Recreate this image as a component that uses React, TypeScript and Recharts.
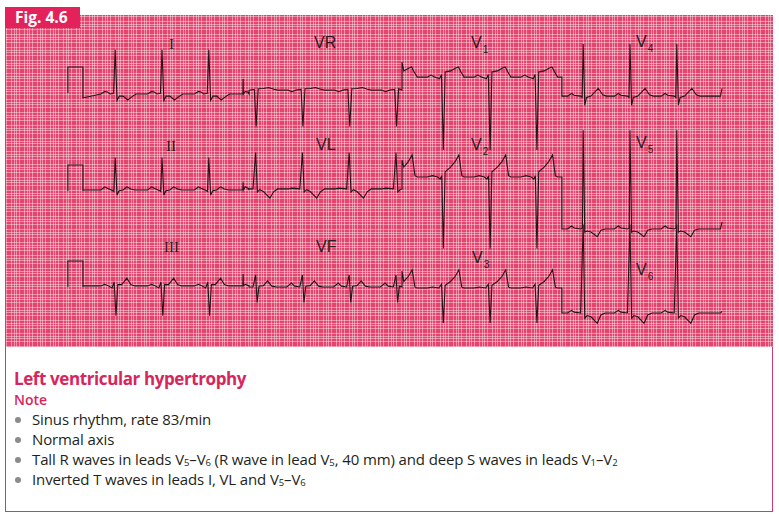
import React from "react";
import { LineChart, Line, XAxis, YAxis } from "recharts";

// paper scale: 1 mm = 2.6 px (25 mm/s, 10 mm/mV)
const PX_PER_MM = 2.6;

// QRS times along the strip, mm from the left edge of the grid (rate 83/min)
const beats = [42, 60, 78, 96, 114, 132, 150, 168, 186, 204, 222, 240, 258];

// one beat per lead: [time offset from QRS in mm, deflection in mm]
const leadI = [[-5.5, 0], [-4, 1], [-3, 0.8], [-2, 0], [-0.6, 0.3], [0, 17], [0.7, -2.5], [1.6, -0.8], [3, -0.8], [4.8, -2.3], [6.5, -1], [8, 0]];
const leadII = [[-5.5, 0], [-4, 1.2], [-2.8, 0.6], [-1.5, 0], [-0.5, -0.5], [0, 12.5], [0.7, -2], [1.5, -0.3], [3, 0], [4.5, 1.2], [6, 0.4], [7.5, 0]];
const leadIII = [[-5.5, 0], [-4, 0.6], [-3, 0.2], [-1.2, -0.8], [-0.4, 1.5], [0.3, -11.5], [1, 0.5], [2.5, 0.5], [4.5, 3], [6, 0.5], [7.5, 0]];
const leadVR = [[-5.5, 0], [-4, -0.6], [-2.5, 0], [-0.5, 0.3], [0.2, -14], [1, 0.5], [3, 0.6], [5, 1], [7, 0.3], [8.5, 0]];
const leadVL = [[-5.5, 0], [-4, 0.3], [-1, 0], [0, 14], [0.7, -1.2], [1.6, -0.3], [3, -1], [5.5, -3.5], [7, -1], [8.5, 0]];
const leadVF = [[-6, 0], [-4.2, 1.5], [-3, 0.3], [-1, 0], [0, 4.6], [0.6, -6], [1.3, 0.3], [3, 0.5], [4.6, 2.3], [6.2, 0.3], [8, 0]];
const leadV1 = [[-6, 0], [-4.5, 0.8], [-3, 0], [-1.2, -0.6], [-0.5, 1], [0.2, -28], [0.9, 2], [3, 2.4], [5, 3.5], [6, 3.9], [7, 2], [8.2, 0]];
const leadV2 = [[-6, 0], [-4, 0.5], [-2, 0], [-1, -0.8], [-0.4, 0.5], [0.2, -27.5], [0.9, 2], [3, 3.8], [4.8, 6], [6.2, 8.5], [7.3, 0.5], [8.2, 0]];
const leadV3 = [[-6, 0], [-4, 0.4], [-1.5, 0], [-0.5, 1.5], [0.2, -13.5], [0.9, 1], [3, 2.5], [4.8, 4.5], [6.2, 7], [7.3, 0.3], [8.2, 0]];
const leadV4 = [[-6, 0], [-4.5, 1], [-3.5, 0.3], [-1, 0], [-0.4, -0.5], [0, 20], [0.6, -3.5], [1.3, -0.5], [3, 0], [5.8, 3], [7.5, 0.5], [9, 0]];
const leadV5 = [[-6, 0], [-4.5, 1.2], [-3.5, 0.4], [-1, 0], [-0.3, 0.3], [0, 38], [0.6, -1.2], [1.5, -0.8], [3, -1.2], [5.4, -3], [6.8, -0.5], [8.5, 0]];
const leadV6 = [[-6, 0], [-4.5, 1], [-3.5, 0.3], [-1, 0], [0, 34], [0.6, -2], [1.5, -1], [3, -1.5], [5.4, -4], [6.8, -0.8], [8.5, 0]];

const leadShapes: Record<string, number[][]> = {
  I: leadI, II: leadII, III: leadIII, VR: leadVR, VL: leadVL, VF: leadVF,
  V1: leadV1, V2: leadV2, V3: leadV3, V4: leadV4, V5: leadV5, V6: leadV6,
};

const row1Leads = ["I", "VR", "V1", "V4"];
const row2Leads = ["II", "VL", "V2", "V5"];
const row3Leads = ["III", "VF", "V3", "V6"];

// layout of the strip (mm)
const calStart = 23.8;
const calEnd = 29.6;
const calHeight = 10;
const columnEdges = [29.6, 93.5, 152.3, 213.8, 275.4];
const rowLayout = [
  { leads: row1Leads, cal: 97.7, bases: [97.3, 98.8, 103.8, 96.5], lifts: [-1.5, 0, 5.8, 0], endLift: 3, mark: 5.8 },
  { leads: row2Leads, cal: 60.0, bases: [60.4, 60.8, 65.4, 45.4], lifts: [0, 0, 6.5, 0], endLift: 2.7, mark: 3 },
  { leads: row3Leads, cal: 23.1, bases: [23.5, 23.1, 22.7, 13.1], lifts: [0, 0, 6.5, 0], endLift: 0.6, mark: 4.6 },
];
const switchMark = 91.2;

type Pt = { x: number; y: number };

function buildRow(r: (typeof rowLayout)[number]): Pt[] {
  const pts: Pt[] = [
    { x: calStart, y: r.cal },
    { x: calStart, y: r.cal + calHeight },
    { x: calEnd, y: r.cal + calHeight },
    { x: calEnd, y: r.cal },
  ];
  r.leads.forEach((lead, i) => {
    const from = columnEdges[i];
    const to = columnEdges[i + 1];
    const base = r.bases[i];
    const seg: Pt[] = [];
    beats.forEach((b) => {
      leadShapes[lead].forEach(([dt, a]) => {
        const t = b + dt;
        if (t > from + 0.3 && t < to) seg.push({ x: t, y: base + a });
      });
    });
    if (switchMark > from && switchMark < to) {
      seg.push({ x: switchMark - 0.1, y: base }, { x: switchMark, y: base + r.mark }, { x: switchMark + 0.1, y: base });
    }
    seg.sort((p, q) => p.x - q.x);
    pts.push({ x: from, y: base + r.lifts[i] });
    pts.push(...seg);
    if (i === r.leads.length - 1) {
      pts.push({ x: to - 0.6, y: base }, { x: to, y: base + r.endLift });
    } else {
      pts.push({ x: to, y: base });
    }
  });
  return pts;
}

const rows = rowLayout.map(buildRow);

const GRID_W = 767;
const GRID_H = 332;

const leadLabels = [
  { t: "I", x: 169, y: 36, serif: true },
  { t: "VR", x: 314, y: 35 },
  { t: "V", s: "1", x: 471, y: 35 },
  { t: "V", s: "4", x: 636, y: 34 },
  { t: "II", x: 166, y: 138, serif: true },
  { t: "VL", x: 316, y: 137 },
  { t: "V", s: "2", x: 471, y: 137 },
  { t: "V", s: "5", x: 636, y: 135 },
  { t: "III", x: 164, y: 239, serif: true },
  { t: "VF", x: 316, y: 239 },
  { t: "V", s: "3", x: 472, y: 250 },
  { t: "V", s: "6", x: 636, y: 262 },
];

const sub: React.CSSProperties = { fontSize: 9.5, lineHeight: "9.5px", position: "relative", top: 1.5 };

const bullets = [
  <>Sinus rhythm, rate 83/min</>,
  <>Normal axis</>,
  <>Tall R waves in leads V<span style={sub}>5</span>–V<span style={sub}>6</span> (R wave in lead V<span style={sub}>5</span>, 40 mm) and deep S waves in leads V<span style={sub}>1</span>–V<span style={sub}>2</span></>,
  <>Inverted T waves in leads I, VL and V<span style={sub}>5</span>–V<span style={sub}>6</span></>,
];

const CRIMSON = "#d7265b";

export default function App() {
  return (
    <div style={{ position: "absolute", left: 0, top: 0, width: 779, height: 514, background: "#fff", fontFamily: "'Open Sans', 'Noto Sans', sans-serif", overflow: "hidden" }}>
      <div style={{ position: "absolute", left: 5, top: 15, width: 766, height: 495, border: "1.5px solid #cf3d6b" }} />
      <div
        style={{
          position: "absolute", left: 6, top: 15, width: GRID_W, height: GRID_H,
          backgroundColor: "#e4456f",
          backgroundImage:
            "repeating-linear-gradient(0deg, rgba(255,255,255,0.4) 0px, rgba(255,255,255,0.4) 0.8px, transparent 0.8px, transparent 2.6px)," +
            "repeating-linear-gradient(90deg, rgba(255,255,255,0.4) 0px, rgba(255,255,255,0.4) 0.8px, transparent 0.8px, transparent 2.6px)",
        }}
      >
        <LineChart width={GRID_W} height={GRID_H} margin={{ top: 0, right: 0, bottom: 0, left: 0 }}>
          <XAxis type="number" dataKey="x" domain={[0, GRID_W / PX_PER_MM]} hide allowDataOverflow />
          <YAxis type="number" domain={[0, GRID_H / PX_PER_MM]} hide allowDataOverflow />
          {rows.map((d, i) => (
            <Line key={i} data={d} dataKey="y" type="linear" stroke="#24141a" strokeWidth={1.1} dot={false} activeDot={false} isAnimationActive={false} />
          ))}
        </LineChart>
        {leadLabels.map((l, i) => (
          <div key={i} style={{ position: "absolute", left: l.x - 6, top: l.y - 15, fontSize: l.serif ? 15 : 16, lineHeight: "16px", color: "#2a1c20", fontFamily: l.serif ? "'Liberation Serif', serif" : "'Liberation Sans', Arial, sans-serif", whiteSpace: "nowrap" }}>
            {l.t}
            {l.s && <span style={{ fontSize: 10, lineHeight: "10px", position: "relative", top: 5, marginLeft: 1 }}>{l.s}</span>}
          </div>
        ))}
      </div>
      <div style={{ position: "absolute", left: 5, top: 7, width: 75, height: 21, background: "#e3225c" }} />
      <div style={{ position: "absolute", left: 15, top: 9.5, fontSize: 15.5, lineHeight: "15.5px", fontWeight: 700, color: "#fff" }}>Fig. 4.6</div>
      <div style={{ position: "absolute", left: 14, top: 370, fontSize: 17, lineHeight: "17px", fontWeight: 700, color: CRIMSON, letterSpacing: -0.4, whiteSpace: "nowrap" }}>Left ventricular hypertrophy</div>
      <div style={{ position: "absolute", left: 14, top: 392.6, fontSize: 14, lineHeight: "14px", fontWeight: 600, color: CRIMSON }}>Note</div>
      {bullets.map((b, i) => (
        <div key={i} style={{ position: "absolute", left: 15, top: 411.7 + i * 20, fontSize: 15, lineHeight: "15px", color: "#231f20", whiteSpace: "nowrap", letterSpacing: -0.12 }}>
          <span style={{ display: "inline-block", width: 6, height: 6, borderRadius: 3, background: "#8a8a8a", position: "relative", top: -2, marginRight: 11 }} />
          {b}
        </div>
      ))}
    </div>
  );
}
